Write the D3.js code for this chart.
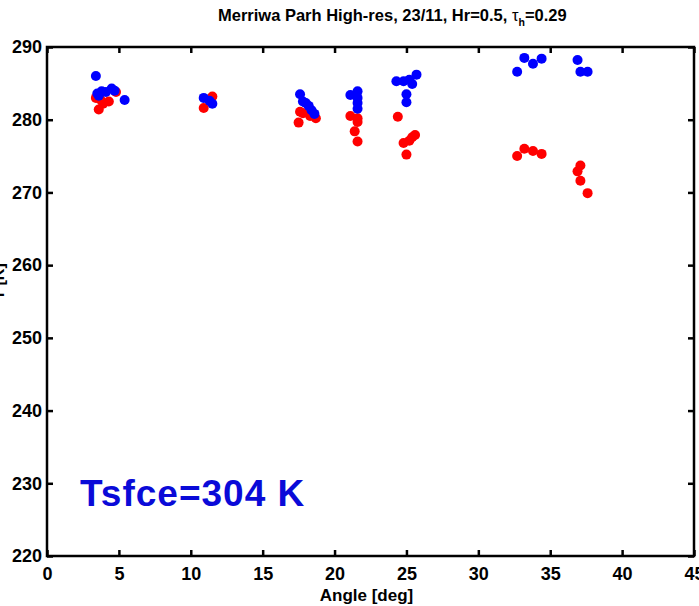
<!DOCTYPE html>
<html>
<head>
<meta charset="utf-8">
<script src="https://cdn.jsdelivr.net/npm/d3@7/dist/d3.min.js"></script>
<style>
  html, body { margin: 0; padding: 0; background: #fff; }
  svg { display: block; }
  text { font-family: "Liberation Sans Narrow", "Liberation Sans", Arial, sans-serif; font-weight: bold; }
</style>
</head>
<body>
<svg id="chart" width="699" height="606"></svg>
<script>
// Brightness temperature vs viewing angle
const xTicks = [0, 5, 10, 15, 20, 25, 30, 35, 40, 45];
const yTicks = [220, 230, 240, 250, 260, 270, 280, 290];

// red series: [angle (deg), temperature (K)]
const redPoints = [
  [3.4, 283.0], [3.6, 281.4], [3.7, 282.8], [3.9, 282.2], [4.3, 282.5], [4.8, 283.8],
  [10.9, 281.6], [11.5, 283.2],
  [17.5, 279.6], [17.6, 281.1], [17.8, 280.9], [18.3, 280.5], [18.7, 280.2],
  [21.1, 280.5], [21.6, 280.2], [21.6, 279.7], [21.4, 278.4], [21.6, 277.0],
  [24.4, 280.4], [24.8, 276.8], [25.0, 275.2], [25.2, 277.1], [25.4, 277.6], [25.6, 277.9],
  [32.7, 275.0], [33.2, 276.0], [33.8, 275.7], [34.4, 275.3],
  [37.1, 273.7], [36.9, 272.9], [37.1, 271.6], [37.6, 269.9]
];

// blue series: [angle (deg), temperature (K)]
const bluePoints = [
  [3.4, 286.0], [3.5, 283.6], [3.6, 283.3], [3.8, 283.9], [4.1, 283.8], [4.5, 284.3], [4.7, 284.0], [5.4, 282.7],
  [10.9, 283.0], [11.3, 282.6], [11.5, 282.2],
  [17.6, 283.5], [17.8, 282.5], [18.0, 282.3], [18.2, 281.9], [18.4, 281.3], [18.6, 280.8],
  [21.1, 283.4], [21.6, 283.9], [21.6, 283.0], [21.6, 282.3], [21.6, 281.5],
  [24.3, 285.3], [24.8, 285.3], [25.2, 285.5], [25.4, 284.9], [25.7, 286.2], [25.0, 283.5], [25.0, 282.4],
  [32.7, 286.6], [33.2, 288.5], [33.8, 287.7], [34.4, 288.4],
  [36.9, 288.2], [37.1, 286.6], [37.6, 286.6]
];

const titleText = "Merriwa Parh High-res, 23/11, Hr=0.5, ";
const xLabel = "Angle [deg]";
const yLabel = "T [K]";
const noteText = "Tsfce=304 K";

(function draw() {
  const svg = d3.select("#chart");
  const plotLeft = 47, plotRight = 694, plotTop = 47, plotBottom = 556;

  const x = d3.scaleLinear().domain([0, 45]).range([plotLeft, plotRight]);
  const y = d3.scaleLinear().domain([220, 290]).range([plotBottom, plotTop]);

  // title with tau subscript
  const title = svg.append("text")
    .attr("x", 218).attr("y", 21)
    .attr("text-anchor", "start")
    .style("font-family", "'Liberation Sans', Arial, sans-serif")
    .attr("font-size", 16.5);
  title.append("tspan").text(titleText);
  title.append("tspan").style("font-weight", "normal").text("τ");
  title.append("tspan").attr("dy", 5).attr("font-size", 10.5).text("h");
  title.append("tspan").attr("dy", -5).text("=0.29");

  // markers (red underneath blue)
  const r = 5;
  svg.append("g").selectAll("circle").data(redPoints).join("circle")
    .attr("cx", d => x(d[0])).attr("cy", d => y(d[1])).attr("r", r)
    .attr("fill", "#ff0000");
  svg.append("g").selectAll("circle").data(bluePoints).join("circle")
    .attr("cx", d => x(d[0])).attr("cy", d => y(d[1])).attr("r", r)
    .attr("fill", "#0000ff");

  // axes with inward ticks on all four sides
  const tickLen = 6;
  const styleAxis = g => {
    g.select(".domain").remove();
    g.selectAll(".tick line").attr("stroke", "#000").attr("stroke-width", 2.5);
  };
  const styleLabels = g => g.selectAll(".tick text")
    .attr("font-size", 18).attr("fill", "#000")
    .style("font-family", "'Liberation Sans Narrow', 'Liberation Sans', sans-serif")
    .style("font-weight", "bold");

  svg.append("g").attr("transform", `translate(0,${plotBottom})`)
    .call(d3.axisBottom(x).tickValues(xTicks).tickSize(-tickLen).tickPadding(11))
    .call(styleAxis).call(styleLabels);
  svg.append("g").attr("transform", `translate(0,${plotTop})`)
    .call(d3.axisTop(x).tickValues(xTicks).tickSize(-tickLen).tickFormat(""))
    .call(styleAxis);
  svg.append("g").attr("transform", `translate(${plotLeft},0)`)
    .call(d3.axisLeft(y).tickValues(yTicks).tickSize(-tickLen).tickPadding(5))
    .call(styleAxis).call(styleLabels);
  svg.append("g").attr("transform", `translate(${plotRight},0)`)
    .call(d3.axisRight(y).tickValues(yTicks).tickSize(-tickLen).tickFormat(""))
    .call(styleAxis);

  // frame
  svg.append("rect")
    .attr("x", plotLeft).attr("y", plotTop)
    .attr("width", plotRight - plotLeft).attr("height", plotBottom - plotTop)
    .attr("fill", "none").attr("stroke", "#000").attr("stroke-width", 2.5);

  // axis labels
  svg.append("text")
    .attr("x", (plotLeft + plotRight) / 2 - 4).attr("y", 601)
    .attr("text-anchor", "middle").attr("font-size", 17)
    .text(xLabel);
  svg.append("text")
    .attr("transform", `translate(4,${(plotTop + plotBottom) / 2 - 20}) rotate(-90)`)
    .attr("text-anchor", "middle").attr("font-size", 16)
    .text(yLabel);

  // surface temperature note
  svg.append("text")
    .attr("x", 80).attr("y", 506)
    .style("font-family", "'Liberation Sans', Arial, sans-serif")
    .attr("font-size", 37).attr("letter-spacing", 1).attr("fill", "#0a0ad8")
    .text(noteText);
})();
</script>
</body>
</html>
